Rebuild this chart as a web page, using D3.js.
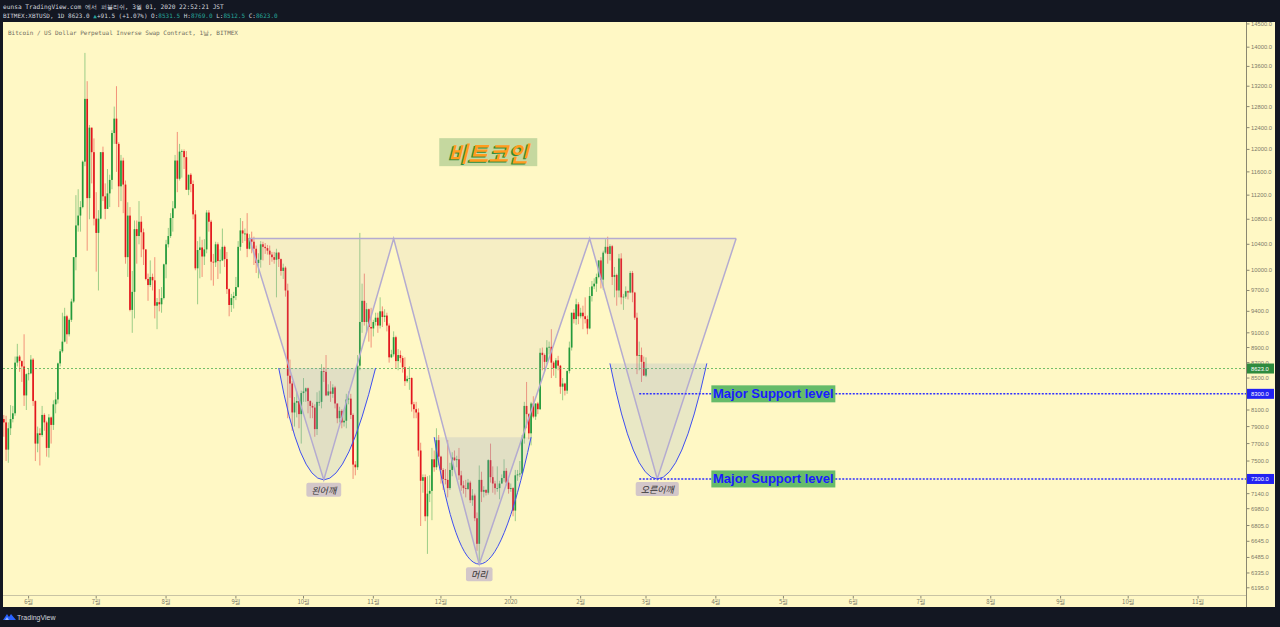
<!DOCTYPE html>
<html><head><meta charset="utf-8">
<script src="https://cdn.jsdelivr.net/npm/d3@7"></script>
<style>
html,body{margin:0;padding:0;background:#131722;overflow:hidden}
svg{display:block}
</style></head><body>
<svg id="c" width="1280" height="627"></svg>
<script>
// ---------------- DATA ----------------
const firstCandle = [2019, 4, 21]; // 2019-05-21 (UTC), daily candles
const opens = [
 7990,7950,7630,7880,7990,8060,8700,8780,8720,8650,8280,
 8550,8560,8740,8210,7700,7820,7800,8040,7950,7650,8010,7920,8170,8230,8690,8850,8980,9330,9080,9280,9540,10200,10700,10860,11000,11780,12950,11150,12400,11950,
 10810,10580,10810,11950,11180,10970,11230,11460,12300,12570,12100,11350,11800,11380,10200,10860,9420,9680,10640,10530,10760,10590,10320,9870,9780,9900,9850,9480,9530,9500,9590,
 10090,10400,10530,10820,10980,11800,11480,11960,11970,11860,11290,11550,11390,10880,10030,10310,10350,10210,10320,10910,10760,10130,10120,10400,10140,10150,10360,10170,9720,9490,9590,
 9620,9750,10360,10620,10570,10570,10330,10500,10440,10330,10110,10160,10400,10360,10340,10300,10240,10200,10160,10270,10170,9990,10040,9700,8530,8430,8070,8190,8210,8050,
 8310,8330,8370,8210,8150,8130,7870,8200,8200,8590,8580,8280,8330,8300,8380,8180,8000,8090,7950,7970,8230,8240,8040,7460,7430,8660,9250,9550,9250,9430,9180,
 9160,9250,9310,9200,9400,9320,9340,9200,8770,8810,9040,8720,8800,8760,8640,8460,8490,8500,8170,8110,8070,7620,7280,7320,6900,7140,7170,7520,7430,7740,
 7550,7400,7300,7290,7200,7400,7540,7510,7520,7340,7230,7200,7190,7260,7070,7120,6880,6620,7290,7160,7180,7150,7510,7320,7250,7200,7200,7250,7310,7390,7260,
 7190,7200,6960,7340,7350,7360,7760,8150,8050,7820,8180,8020,8180,8110,8830,8800,8710,8900,8910,8700,8630,8730,8660,8390,8430,8340,8590,8900,9380,9290,9500,
 9330,9380,9330,9290,9160,9620,9760,9800,9900,10150,9860,10270,10360,10250,10370,9900,9930,9700,10180,9600,9610,9690,9670,9960,9670,9310,8790,8800,8710,
 8531.5
];
const highs = [
 8040,8030,7950,8160,8150,8780,8950,8800,8730,9080,8560,
 8620,8800,8760,8220,7900,7880,8150,8060,7970,8050,8020,8220,8320,8700,8880,9380,9450,9350,9300,9580,10200,11200,11300,11100,11800,13880,13300,12450,12400,12200,
 11250,10950,11950,12050,11400,11650,11550,12350,12800,13200,12130,11900,11850,11450,11080,11000,9990,10780,10780,11100,10850,10650,10320,9950,10150,9950,10200,9590,9720,9750,10100,
 10470,10660,10900,11100,11900,12320,12100,12000,12000,11970,11550,11580,11450,10950,10450,10520,10470,10480,10950,10950,10790,10250,10440,10430,10320,10650,10380,10280,9730,9650,9680,
 9900,10450,10820,10770,10650,10900,10560,10600,10520,10380,10260,10450,10440,10420,10390,10380,10280,10280,10330,10280,10180,10100,10060,9800,8740,8460,8260,8330,8210,8340,
 8500,8380,8380,8220,8190,8170,8320,8340,8680,8640,8800,8420,8460,8420,8400,8180,8140,8110,8100,8300,8330,8300,8060,7500,8800,10580,9800,9950,9520,9440,9450,
 9280,9380,9380,9600,9470,9430,9380,9230,8870,9120,9060,8880,8860,8790,8770,8530,8650,8510,8200,8200,8120,7710,7350,7350,7330,7340,7650,7620,7880,7800,
 7560,7420,7410,7740,7480,7600,7620,7560,7650,7390,7280,7290,7300,7280,7190,7140,6940,7450,7380,7220,7190,7520,7700,7440,7280,7440,7280,7350,7520,7420,7320,
 7250,7210,7400,7400,7500,7800,8200,8450,8060,8200,8270,8180,8200,8890,8900,8820,9000,8980,9150,8720,8760,8790,8670,8500,8440,8600,8980,9380,9430,9580,9530,
 9450,9480,9600,9340,9750,9840,9880,9950,10150,10200,10300,10480,10520,10400,10390,10050,9950,10250,10260,9650,9760,9700,9990,9990,9680,9380,8980,8900,8780,
 8769
];
const lows = [
 7780,7500,7480,7800,7950,8030,8650,8580,8450,8150,8100,
 8470,8550,8150,7500,7600,7450,7780,7850,7550,7540,7700,7860,8060,8180,8650,8830,8970,8950,9050,9250,9520,10000,10600,10600,10980,11700,10300,10800,11400,10700,
 9980,9700,10800,11100,10800,10970,11000,11300,12100,11600,11000,11100,10900,10100,9900,9400,9100,9300,10100,10400,10200,10080,9850,9550,9750,9700,9300,9150,9400,9380,9570,
 9880,10350,10500,10600,10980,11250,11450,11500,11650,11300,11200,11250,10800,10000,9500,9880,9900,10080,10260,10600,9850,9770,10050,9870,9950,10140,10050,9650,9330,9390,9440,
 9560,9740,10300,10420,10450,10200,10320,10260,10080,9960,9880,10040,10150,10250,10240,10080,10130,10100,9600,10050,9920,9870,9610,8000,8250,7850,7900,8010,7880,7700,
 8200,8200,8060,8000,8000,7780,7800,8150,8120,8450,8270,8280,8200,8250,8120,7940,7950,7880,7900,7880,8170,7990,7300,7340,7400,8600,9100,9200,9100,8980,8900,
 9050,9200,9100,9160,9180,9250,9120,8700,8760,8780,8620,8600,8700,8570,8400,8440,8350,8080,8000,8000,7550,6800,7150,6850,6520,7050,6860,7380,7400,7450,
 7250,7180,7240,7100,7180,7330,7500,7430,7290,7170,7140,7100,7180,7040,7010,6850,6550,6450,7050,7100,7120,7130,7260,7150,7130,7160,7080,7250,7270,7230,7140,
 7160,6900,6850,7280,7320,7360,7700,7880,7750,7680,8000,7980,8050,8100,8600,8580,8680,8810,8500,8530,8500,8600,8300,8220,8280,8300,8560,8860,9230,9210,9220,
 9300,9150,9230,9080,9150,9540,9720,9680,9880,9730,9710,10250,10100,10150,9780,9600,9480,9600,9500,9420,9580,9570,9660,9530,9280,8550,8600,8450,8530,
 8512.5
];
const closes = [
 7950,7630,7880,7990,8060,8700,8780,8720,8650,8280,8550,
 8560,8740,8210,7700,7820,7800,8040,7950,7650,8010,7920,8170,8230,8690,8850,8980,9330,9080,9280,9540,10200,10700,10860,11000,11780,12950,11150,12400,11950,10810,
 10580,10810,11950,11180,10970,11230,11460,12300,12570,12100,11350,11800,11380,10200,10860,9420,9680,10640,10530,10760,10590,10320,9870,9780,9900,9850,9480,9530,9500,9590,10090,
 10400,10530,10820,10980,11800,11480,11960,11970,11860,11290,11550,11390,10880,10030,10310,10350,10210,10320,10910,10760,10130,10120,10400,10140,10150,10360,10170,9720,9490,9590,9620,
 9750,10360,10620,10570,10570,10330,10500,10440,10330,10110,10160,10400,10360,10340,10300,10240,10200,10160,10270,10170,9990,10040,9700,8530,8430,8070,8190,8210,8050,8310,
 8330,8370,8210,8150,8130,7870,8200,8200,8590,8580,8280,8330,8300,8380,8180,8000,8090,7950,7970,8230,8240,8040,7460,7430,8660,9250,9550,9250,9430,9180,9160,
 9250,9310,9200,9400,9320,9340,9200,8770,8810,9040,8720,8800,8760,8640,8460,8490,8500,8170,8110,8070,7620,7280,7320,6900,7140,7170,7520,7430,7740,7550,
 7400,7300,7290,7200,7400,7540,7510,7520,7340,7230,7200,7190,7260,7070,7120,6880,6620,7290,7160,7180,7150,7510,7320,7250,7200,7200,7250,7310,7390,7260,7190,
 7200,6960,7340,7350,7360,7760,8150,8050,7820,8180,8020,8180,8110,8830,8800,8710,8900,8910,8700,8630,8730,8660,8390,8430,8340,8590,8900,9380,9290,9500,9330,
 9380,9330,9290,9160,9620,9760,9800,9900,10150,9860,10270,10360,10250,10370,9900,9930,9700,10180,9600,9610,9690,9670,9960,9670,9310,8790,8800,8710,8531.5,
 8623
];
const priceTicks = [14500,14000,13600,13200,12800,12400,12000,11600,11200,10800,10400,10000,9700,9400,9100,8900,8700,8500,8300,8100,7900,7700,7500,7300,7140,6980,6805,6645,6485,6335,6195];
const lastPrice = 8623;
const supportLevels = [8300, 7300];
const supportStart = "2020-02-27";
const supportLabelDate = "2020-03-30";
// head & shoulders pattern (date, price)
const patternDates  = ["2019-09-07","2019-10-10","2019-11-10","2019-12-18","2020-02-05","2020-03-06","2020-04-10"];
const patternPrices = [10490, 7290, 10490, 6420, 10490, 7300, 10490];
// arcs: [startDate, apexDate, endDate]
const arcDates  = [["2019-09-20","2019-10-10","2019-11-02"],["2019-11-28","2019-12-18","2020-01-10"],["2020-02-14","2020-03-06","2020-03-28"]];
const arcTops   = [8630, 7775, 8690];
const arcBottoms= [7290, 6420, 7300];
const arcLabels = ["왼어깨","머리","오른어깨"];
const titleLabel = {text:"비트코인", date:"2019-12-22", price:11950};

// ---------------- SCALES ----------------
const svg = d3.select("#c");
const P = {left:3, right:1246, top:22, bottom:595};
const D = s => { const [a,b,c] = s.split("-").map(Number); return new Date(Date.UTC(a,b-1,c)); };
const x = d3.scaleUtc().domain([D("2019-06-01"), D("2020-03-01")]).range([28.6, 646]);
const y = d3.scaleLog().domain([6128, 14542]).range([P.bottom, P.top]);

// backgrounds
svg.append("rect").attr("width",1280).attr("height",627).attr("fill","#131722");
svg.append("rect").attr("x",P.left).attr("y",P.top).attr("width",1275-P.left).attr("height",607-P.top).attr("fill","#fff8c5");

svg.append("defs").append("clipPath").attr("id","pane").append("rect")
  .attr("x",P.left).attr("y",P.top).attr("width",P.right-P.left).attr("height",P.bottom-P.top);
const g = svg.append("g").attr("clip-path","url(#pane)");

// candles
const candles = closes.map((c,i)=>({d:new Date(Date.UTC(firstCandle[0],firstCandle[1],firstCandle[2]+i)),o:opens[i],h:highs[i],l:lows[i],c}));
const cg = g.append("g");
candles.forEach(k=>{
  const up = k.c >= k.o, col = up ? "#239a3b" : "#e3161d";
  const cx = x(k.d);
  cg.append("line").attr("x1",cx).attr("x2",cx).attr("y1",y(k.h)).attr("y2",y(k.l))
    .attr("stroke",col).attr("stroke-opacity",0.45).attr("stroke-width",1);
  const y0 = y(Math.max(k.o,k.c)), y1 = y(Math.min(k.o,k.c));
  cg.append("rect").attr("x",cx-0.85).attr("width",1.7).attr("y",y0).attr("height",Math.max(0.8,y1-y0)).attr("fill",col);
});

// last price line
g.append("line").attr("x1",P.left).attr("x2",P.right).attr("y1",y(lastPrice)).attr("y2",y(lastPrice))
  .attr("stroke","#4caf50").attr("stroke-width",0.8).attr("stroke-dasharray","2,2");

// pattern triangles
const pts = patternDates.map((d,i)=>[x(D(d)), y(patternPrices[i])]);
for (let i=0;i<3;i++){
  const a=pts[2*i], b=pts[2*i+1], c=pts[2*i+2];
  g.append("path").attr("d",`M${a}L${b}L${c}Z`).attr("fill","rgba(185,170,190,0.13)");
}
// arcs
arcDates.forEach((ds,i)=>{
  const p0=[x(D(ds[0])), y(arcTops[i])], p2=[x(D(ds[2])), y(arcTops[i])], ap=[x(D(ds[1])), y(arcBottoms[i])];
  const c=[2*ap[0]-(p0[0]+p2[0])/2, 2*ap[1]-(p0[1]+p2[1])/2];
  g.append("path").attr("d",`M${p0}Q${c} ${p2}Z`).attr("fill","rgba(110,140,200,0.15)");
  g.append("path").attr("d",`M${p0}Q${c} ${p2}`).attr("fill","none").attr("stroke","#3f4ff0").attr("stroke-width",1);
});
// pattern lines
g.append("path").attr("d","M"+pts.join("L")).attr("fill","none").attr("stroke","#b4abd0").attr("stroke-width",1.5);
g.append("line").attr("x1",pts[0][0]).attr("x2",pts[6][0]).attr("y1",pts[0][1]).attr("y2",pts[6][1])
  .attr("stroke","#b4abd0").attr("stroke-width",1.5);

// arc labels
arcDates.forEach((ds,i)=>{
  const cx = x(D(ds[1])), top = y(arcBottoms[i])+3;
  const t = svg.append("text").attr("x",cx).attr("y",top+7.5).attr("text-anchor","middle")
    .attr("dominant-baseline","central").attr("font-family","Noto Sans CJK KR").attr("font-size",9)
    .attr("font-style","italic").attr("fill","#333").text(arcLabels[i]);
  const w = t.node().getComputedTextLength()+10;
  svg.insert("rect", () => t.node()).attr("x",cx-w/2).attr("y",top).attr("width",w).attr("height",14).attr("rx",2).attr("fill","#d3c7c9");
});

// support levels
supportLevels.forEach(v=>{
  const yy = y(v);
  svg.append("line").attr("x1",x(D(supportStart))).attr("x2",P.right).attr("y1",yy).attr("y2",yy)
    .attr("stroke","#2f2fff").attr("stroke-width",1.5).attr("stroke-dasharray","2,1.5");
  const lx = x(D(supportLabelDate));
  svg.append("rect").attr("x",lx).attr("y",yy-8.5).attr("width",124).attr("height",17).attr("fill","#66bb6a");
  svg.append("text").attr("x",lx+62).attr("y",yy).attr("text-anchor","middle").attr("dominant-baseline","central")
    .attr("font-family","Liberation Sans, Arial").attr("font-weight","bold").attr("font-size",13).attr("fill","#1a1aff")
    .text("Major Support level");
});

// title label
{
  const cx = x(D(titleLabel.date)), cy = y(titleLabel.price);
  svg.append("rect").attr("x",cx-49).attr("y",cy-14).attr("width",98).attr("height",28).attr("fill","#c5d89f");
  const f = s => s.attr("text-anchor","middle").attr("dominant-baseline","central").attr("font-family","Noto Sans CJK KR")
     .attr("font-weight","bold").attr("font-style","italic").attr("font-size",22).text(titleLabel.text);
  f(svg.append("text").attr("x",cx-1.5).attr("y",cy+1.3).attr("fill","#2e8b3a"));
  f(svg.append("text").attr("x",cx).attr("y",cy).attr("fill","#ff9c1e"));
}

// right price axis
svg.append("line").attr("x1",P.right+0.5).attr("x2",P.right+0.5).attr("y1",P.top).attr("y2",607).attr("stroke","#8a8770").attr("stroke-width",1);
const ax = svg.append("g");
priceTicks.forEach(v=>{
  const yy=y(v);
  ax.append("line").attr("x1",P.right+1).attr("x2",P.right+3.5).attr("y1",yy).attr("y2",yy).attr("stroke","#8a8770");
  ax.append("text").attr("x",P.right+5).attr("y",yy).attr("dominant-baseline","central")
    .attr("font-family","Liberation Sans, Arial").attr("font-size",5.8).attr("fill","#7d7a68").text(v.toFixed(1));
});
const tag = (v,col)=>{
  const yy=y(v);
  ax.append("rect").attr("x",P.right+1).attr("y",yy-5).attr("width",27).attr("height",10).attr("fill",col);
  ax.append("text").attr("x",P.right+5).attr("y",yy).attr("dominant-baseline","central")
    .attr("font-family","Liberation Sans, Arial").attr("font-size",5.8).attr("fill","#fff").text(v.toFixed(1));
};
tag(lastPrice,"#2e8b3e");
supportLevels.forEach(v=>tag(v,"#2222f2"));

// time axis
svg.append("line").attr("x1",P.left).attr("x2",P.right).attr("y1",P.bottom+0.5).attr("y2",P.bottom+0.5).attr("stroke","#c9c4a4");
const months = d3.utcMonth.range(D("2019-06-01"), D("2020-12-01"));
months.forEach(m=>{
  const xx = x(m);
  svg.append("line").attr("x1",xx).attr("x2",xx).attr("y1",P.bottom+1).attr("y2",P.bottom+3.5).attr("stroke","#8a8770");
  svg.append("text").attr("x",xx).attr("y",P.bottom+6.5).attr("text-anchor","middle").attr("dominant-baseline","central")
    .attr("font-family","Noto Sans CJK KR").attr("font-size",6).attr("fill","#7d7a68")
    .text(m.getUTCMonth()===0 ? String(m.getUTCFullYear()) : (m.getUTCMonth()+1)+"월");
});

// header
const mono = "DejaVu Sans Mono, monospace";
svg.append("text").attr("x",3).attr("y",9).attr("font-family",mono).attr("font-size",6.2).attr("fill","#d1d4dc")
  .text("eunsa TradingView.com 에서 퍼블리쉬, 3월 01, 2020 22:52:21 JST");
const h2 = svg.append("text").attr("x",3).attr("y",18).attr("font-family",mono).attr("font-size",6).attr("fill","#d1d4dc");
[["BITMEX:XBTUSD, 1D 8623.0 ","#d1d4dc"],["▲","#26a69a"],["+91.5 (+1.07%) O:","#d1d4dc"],["8531.5","#26a69a"],[" H:","#d1d4dc"],["8769.0","#26a69a"],
 [" L:","#d1d4dc"],["8512.5","#26a69a"],[" C:","#d1d4dc"],["8623.0","#26a69a"]].forEach(([t,c])=>h2.append("tspan").attr("fill",c).text(t));
svg.append("text").attr("x",8).attr("y",34.5).attr("font-family",mono).attr("font-size",6).attr("fill","#6f6c60")
  .text("Bitcoin / US Dollar Perpetual Inverse Swap Contract, 1날, BITMEX");

// footer
const fg = svg.append("g").attr("transform","translate(3,613)");
fg.append("path").attr("d","M0,7 L4,1 L6,4 L8,1 L13,7 Z").attr("fill","#2962ff");
fg.append("path").attr("d","M2,7 L4,4 L6,7 Z").attr("fill","#8fb3ff");
svg.append("text").attr("x",17).attr("y",619.5).attr("font-family","Liberation Sans, Arial").attr("font-size",7).attr("fill","#d1d4dc").text("TradingView");
</script>
</body></html>
